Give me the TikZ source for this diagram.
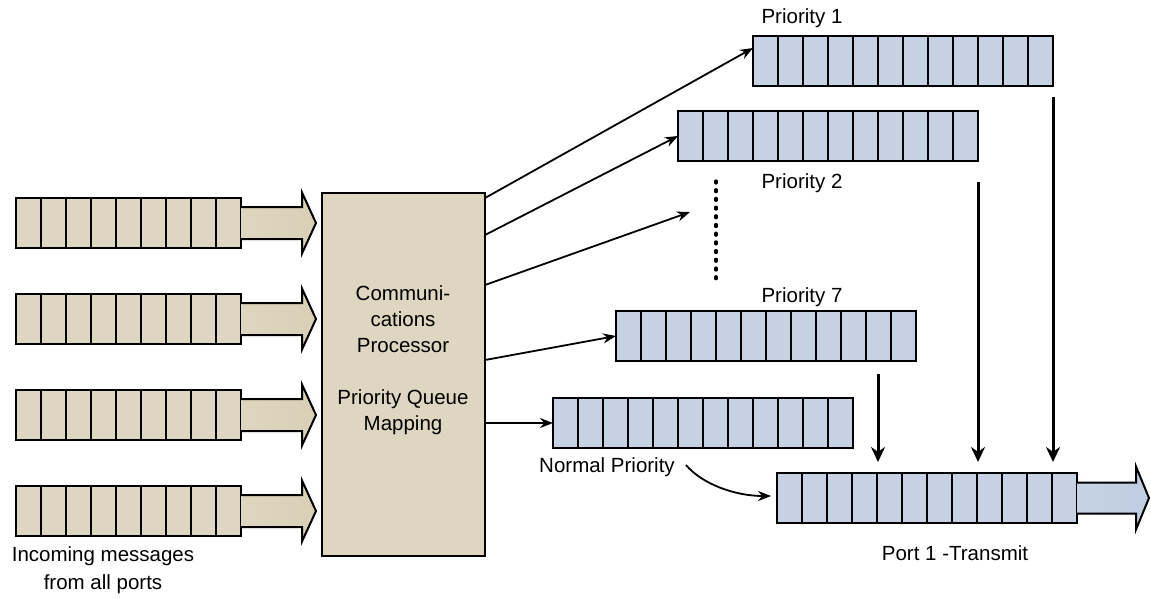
\documentclass[tikz,border=0pt]{standalone}
\usepackage{fontspec}
\setmainfont{Liberation Sans}
\usetikzlibrary{arrows.meta,calc}
\definecolor{tanfill}{RGB}{222,214,192}
\definecolor{tandark}{RGB}{216,207,182}
\definecolor{qblue}{RGB}{198,210,228}
\definecolor{qbluedark}{RGB}{192,205,226}
\tikzset{
  qbox/.style={draw=black,line width=2pt,minimum height=50pt,inner sep=0pt,outer sep=0pt,anchor=north west},
  procbox/.style={draw=black,line width=2pt,fill=tanfill,inner sep=0pt,outer sep=0pt,anchor=north west,minimum width=163pt,minimum height=363pt},
  lbl/.style={inner sep=0pt,outer sep=0pt,align=center},
  thinarrow/.style={line width=1.8pt,-{Stealth[length=13pt,width=10pt]}},
  downarrow/.style={line width=3pt,-{Stealth[length=15pt,width=14pt]}},
  blockarrow/.style={draw=black,line width=2pt,line join=miter},
}
% name, x, y(top), cells, colour
\newcommand\drawqueue[5]{%
  \node[qbox,fill=#5,minimum width=#4*25pt] (#1) at (#2,#3) {};
  \foreach \ci in {1,...,\numexpr#4-1\relax}{\draw[line width=2pt] (#2+\ci*25,#3) -- ++(0,50);}
}
\begin{document}
\begin{tikzpicture}[x=1pt,y=-1pt,font=\fontsize{20.5}{26}\selectfont]
\useasboundingbox (0,0) rectangle (1151,598);

% incoming queues
\foreach \qn/\qy in {i1/198,i2/294,i3/390,i4/486}{
  \drawqueue{\qn}{16}{\qy}{9}{tanfill}
  \draw[blockarrow,left color=tanfill,right color=tandark]
    ($(\qn.east)+(0,-16)$) -- ++(61,0) -- ++(0,-14.5) -- ($(\qn.east)+(75,0)$)
    -- ($(\qn.east)+(61,30.5)$) -- ++(0,-14.5) -- ($(\qn.east)+(0,16)$);
}

% processor
\node[procbox] (proc) at (322,193) {};
\node[lbl] (proctext) at (403,360) {Communi-\\cations\\Processor\\[26pt]Priority Queue\\Mapping};

% priority queues
\drawqueue{p1}{753}{36}{12}{qblue}
\drawqueue{p2}{678}{111}{12}{qblue}
\drawqueue{p7}{616}{311}{12}{qblue}
\drawqueue{nq}{553}{398}{12}{qblue}
\drawqueue{port}{777}{473}{12}{qblue}
\draw[blockarrow,left color=qblue,right color=qbluedark]
  ($(port.east)+(0,-15.5)$) -- ++(59,0) -- ++(0,-16) -- ($(port.east)+(72,0)$)
  -- ($(port.east)+(59,31.5)$) -- ++(0,-16) -- ($(port.east)+(0,15.5)$);

% labels
\node[lbl] (l1) at (802,18) {Priority 1};
\node[lbl] (l2) at (802,183) {Priority 2};
\node[lbl] (l7) at (802,297) {Priority 7};
\node[lbl] (ln) at (607,467) {Normal Priority};
\node[lbl] (lp) at (955,553) {Port 1 -Transmit};
\node[lbl,font=\fontsize{20.5}{28}\selectfont] (lin) at (103,570) {Incoming messages\\from all ports};

% arrows from processor
\coordinate (s1) at (485,198);
\coordinate (s2) at (485,235);
\coordinate (s3) at (485,285);
\coordinate (s4) at (485,360);
\coordinate (e3) at (690,212);
\draw[thinarrow] (s1) -- ($(p1.north west)+(0,12)$);
\draw[thinarrow] (s2) -- (p2.west);
\draw[thinarrow] (s3) -- (e3);
\draw[thinarrow] (s4) -- (p7.west);
\draw[thinarrow] (proc.east |- nq.west) -- (nq.west);

% dotted
\coordinate (d1) at (716,181);
\coordinate (d2) at (716,285);
\draw[line width=3.2pt,line cap=round,dash pattern=on 2pt off 6.7pt] (d1) -- (d2);

% down arrows
\coordinate (a7) at (878,374);
\coordinate (a2) at (978,182);
\coordinate (a1) at (1053,97);
\draw[downarrow] (a7) -- ($(port.north west)+(101,-11)$);
\draw[downarrow] (a2) -- ($(port.north west)+(201,-11)$);
\draw[downarrow] (a1) -- ($(port.north west)+(276,-11)$);

% curved arrow
\coordinate (cs) at (686,465);
\draw[thinarrow] (cs) .. controls (702,484) and (735,496) .. ($(port.west)+(-6,-2)$);
\end{tikzpicture}
\end{document}
